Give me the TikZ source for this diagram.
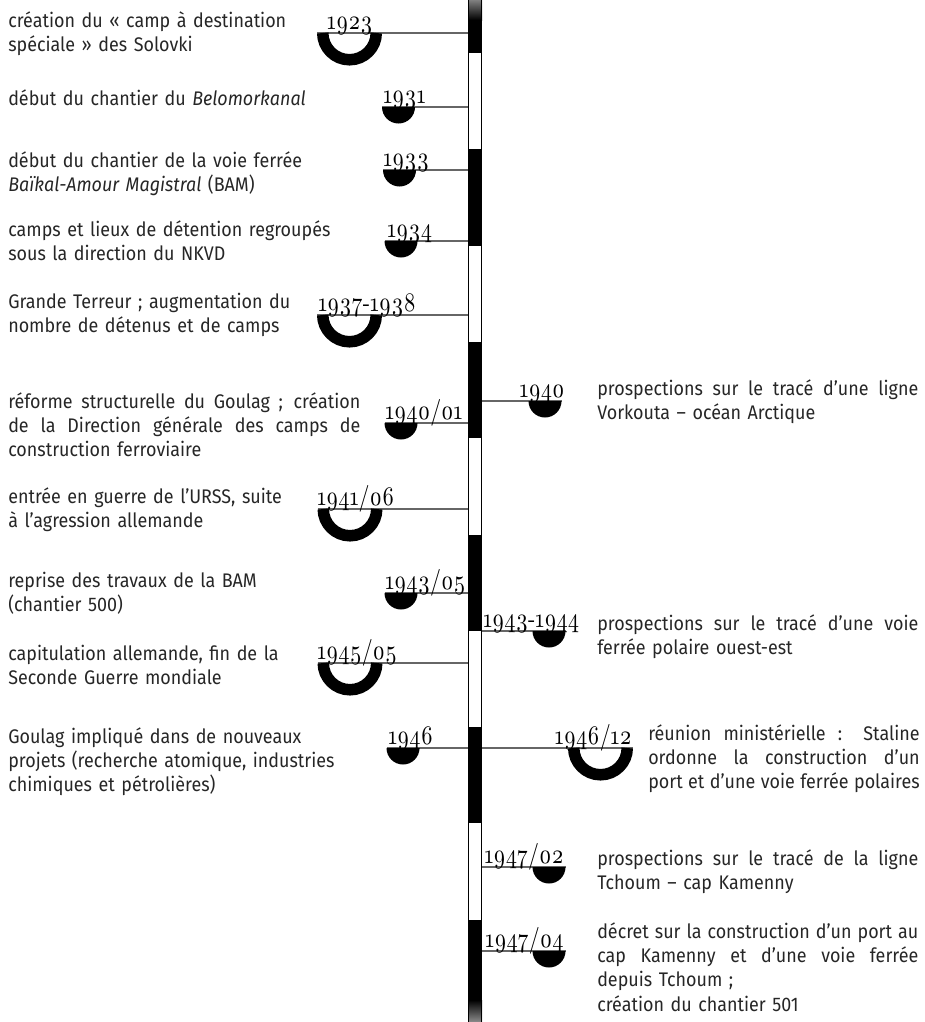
\documentclass[tikz,border=0pt]{standalone}
\usepackage{fontspec}
\setmainfont{Fira Sans}[FakeStretch=0.91]
\newfontfamily\datefont{lmroman10-regular.otf}[Numbers=OldStyle, FakeStretch=0.82]
\usepackage{tikz}
\usetikzlibrary{positioning}
\tikzset{
    evtext/.style={inner sep=0pt, anchor=base west, align=left, text width=250.4pt, font=\fontsize{14}{17.4}\selectfont, text=black!85},
    evtextr/.style={evtext, text width=228.3pt},
    datelbl/.style={inner sep=0pt, font=\datefont\fontsize{19}{19}\selectfont},
    evline/.style={draw=black!60, line width=0.8pt},
    halfdot/.style={fill=black},
    halfring/.style={draw=black, line width=8.2pt},
}
\newcommand\fullline[1]{\leavevmode\hbox to \hsize{\spaceskip=0pt\xspaceskip=0pt #1}}

\begin{document}
\begin{tikzpicture}[x=0.025cm, y=-0.025cm]
    \useasboundingbox (0,0) rectangle (925,1022);

    \coordinate (m1923) at (349.5,33);   \coordinate (b1923) at (468.5,33);
    \coordinate (m1931) at (398.5,107);  \coordinate (b1931) at (468.5,107);
    \coordinate (m1933) at (399.5,170);  \coordinate (b1933) at (468.5,170);
    \coordinate (m1934) at (401,241);    \coordinate (b1934) at (468.5,241);
    \coordinate (m1937) at (349.5,315);  \coordinate (b1937) at (468.5,315);
    \coordinate (m1940a) at (401,423);   \coordinate (b1940a) at (468.5,423);
    \coordinate (m1941) at (350,509);    \coordinate (b1941) at (468.5,509);
    \coordinate (m1943a) at (401,593);   \coordinate (b1943a) at (468.5,593);
    \coordinate (m1945) at (350,663);    \coordinate (b1945) at (468.5,663);
    \coordinate (m1946a) at (403,748);   \coordinate (b1946a) at (468.5,748);
    \coordinate (m1940b) at (545,401);   \coordinate (b1940b) at (481.5,401);
    \coordinate (m1943b) at (549,631);   \coordinate (b1943b) at (481.5,631);
    \coordinate (m1946b) at (600.5,748); \coordinate (b1946b) at (481.5,748);
    \coordinate (m1947a) at (549,867);   \coordinate (b1947a) at (481.5,867);
    \coordinate (m1947b) at (549,951);   \coordinate (b1947b) at (481.5,951);

    \draw[evline] ([xshift=-32.5*0.025cm]m1923) -- (b1923);
    \draw[evline] ([xshift=-16.5*0.025cm]m1931) -- (b1931);
    \draw[evline] ([xshift=-16.5*0.025cm]m1933) -- (b1933);
    \draw[evline] ([xshift=-16.5*0.025cm]m1934) -- (b1934);
    \draw[evline] ([xshift=-32.5*0.025cm]m1937) -- (b1937);
    \draw[evline] ([xshift=-16.5*0.025cm]m1940a) -- (b1940a);
    \draw[evline] ([xshift=-32.5*0.025cm]m1941) -- (b1941);
    \draw[evline] ([xshift=-16.5*0.025cm]m1943a) -- (b1943a);
    \draw[evline] ([xshift=-32.5*0.025cm]m1945) -- (b1945);
    \draw[evline] ([xshift=-16.5*0.025cm]m1946a) -- (b1946a);
    \draw[evline] (b1940b) -- ([xshift=16.5*0.025cm]m1940b);
    \draw[evline] (b1943b) -- ([xshift=16.5*0.025cm]m1943b);
    \draw[evline] (b1946b) -- ([xshift=32.5*0.025cm]m1946b);
    \draw[evline] (b1947a) -- ([xshift=16.5*0.025cm]m1947a);
    \draw[evline] (b1947b) -- ([xshift=16.5*0.025cm]m1947b);

    \draw[halfring] (m1923) ++(-26.75,0) arc[start angle=180, end angle=0, radius=26.75];
    \fill[halfdot] (m1931) ++(-16.5,0) arc[start angle=180, end angle=0, radius=16.5] -- cycle;
    \fill[halfdot] (m1933) ++(-16.5,0) arc[start angle=180, end angle=0, radius=16.5] -- cycle;
    \fill[halfdot] (m1934) ++(-16.5,0) arc[start angle=180, end angle=0, radius=16.5] -- cycle;
    \draw[halfring] (m1937) ++(-26.75,0) arc[start angle=180, end angle=0, radius=26.75];
    \fill[halfdot] (m1940a) ++(-16.5,0) arc[start angle=180, end angle=0, radius=16.5] -- cycle;
    \draw[halfring] (m1941) ++(-26.75,0) arc[start angle=180, end angle=0, radius=26.75];
    \fill[halfdot] (m1943a) ++(-16.5,0) arc[start angle=180, end angle=0, radius=16.5] -- cycle;
    \draw[halfring] (m1945) ++(-26.75,0) arc[start angle=180, end angle=0, radius=26.75];
    \fill[halfdot] (m1946a) ++(-16.5,0) arc[start angle=180, end angle=0, radius=16.5] -- cycle;
    \fill[halfdot] (m1940b) ++(-16.5,0) arc[start angle=180, end angle=0, radius=16.5] -- cycle;
    \fill[halfdot] (m1943b) ++(-16.5,0) arc[start angle=180, end angle=0, radius=16.5] -- cycle;
    \draw[halfring] (m1946b) ++(-26.75,0) arc[start angle=180, end angle=0, radius=26.75];
    \fill[halfdot] (m1947a) ++(-16.5,0) arc[start angle=180, end angle=0, radius=16.5] -- cycle;
    \fill[halfdot] (m1947b) ++(-16.5,0) arc[start angle=180, end angle=0, radius=16.5] -- cycle;

    \fill[white] (468,0) rectangle (482,1022);
    \fill[black] (468,20) rectangle (482,53);
    \foreach \s in {149.3,341.9,534.5,727.1}
        \fill[black] (468,\s) rectangle (482,\s+96.3);
    \fill[black] (468,919.7) rectangle (482,1000);
    \shade[top color=black!50, bottom color=black] (468,0) rectangle (482,20);
    \shade[top color=black, bottom color=black!45] (468,1000) rectangle (482,1022);
    \draw[line width=0.8pt] (468.5,0) -- (468.5,1022) (481.5,0) -- (481.5,1022);

    \node[datelbl, anchor=base] (d1923) at (350,29) {1923};
    \node[datelbl, anchor=base west] (d1931) at (383,103) {1931};
    \node[datelbl, anchor=base west] (d1933) at (383,166) {1933};
    \node[datelbl, anchor=base west] (d1934) at (387,237) {1934};
    \node[datelbl, anchor=base west] (d1937) at (318,311) {1937-1938};
    \node[datelbl, anchor=base west] (d1940a) at (385,419) {1940/01};
    \node[datelbl, anchor=base west] (d1941) at (317,505) {1941/06};
    \node[datelbl, anchor=base west] (d1943a) at (385,589) {1943/05};
    \node[datelbl, anchor=base west] (d1945) at (317,659) {1945/05};
    \node[datelbl, anchor=base west] (d1946a) at (388,744) {1946};
    \node[datelbl, anchor=base east] (d1940b) at (565,397) {1940};
    \node[datelbl, anchor=base west] (d1943b) at (483,627) {1943-1944};
    \node[datelbl, anchor=base east] (d1946b) at (632,744) {1946/12};
    \node[datelbl, anchor=base east] (d1947a) at (564,863) {1947/02};
    \node[datelbl, anchor=base east] (d1947b) at (564,947) {1947/04};

    \node[evtext] (t1923) at (8,27) {création du «~camp à destination\\spéciale~» des Solovki};
    \node[evtext] (t1931) at (8,105) {début du chantier du \textit{Belomorkanal}};
    \node[evtext] (t1933) at (8,167) {début du chantier de la voie ferrée\\\textit{Baïkal-Amour Magistral} (BAM)};
    \node[evtext] (t1934) at (8,236) {camps et lieux de détention regroupés\\sous la direction du NKVD};
    \node[evtext] (t1937) at (8,308) {Grande Terreur ; augmentation du\\nombre de détenus et de camps};
    \node[evtext] (t1940a) at (8,408) {\fullline{réforme structurelle du Goulag ; création}\\\fullline{de la Direction générale des camps de}\\construction ferroviaire};
    \node[evtext] (t1941) at (8,503) {entrée en guerre de l’URSS, suite\\à l’agression allemande};
    \node[evtext] (t1943a) at (8,587) {reprise des travaux de la BAM\\(chantier 500)};
    \node[evtext] (t1945) at (8,660) {capitulation allemande, fin de la\\Seconde Guerre mondiale};
    \node[evtext] (t1946a) at (8,743) {Goulag impliqué dans de nouveaux\\projets (recherche atomique, industries\\chimiques et pétrolières)};
    \node[evtextr] (t1940b) at (597,395) {\fullline{prospections sur le tracé d’une ligne}\\Vorkouta – océan Arctique};
    \node[evtextr] (t1943b) at (597,630) {\fullline{prospections sur le tracé d’une voie}\\ferrée polaire ouest-est};
    \node[evtextr, text width=193pt] (t1946b) at (648,740) {\fullline{réunion ministérielle : Staline}\\\fullline{ordonne la construction d’un}\\\fullline{port et d’une voie ferrée polaires}};
    \node[evtextr] (t1947a) at (597,865) {\fullline{prospections sur le tracé de la ligne}\\Tchoum – cap Kamenny};
    \node[evtextr] (t1947b) at (597,938) {\fullline{décret sur la construction d’un port au}\\\fullline{cap Kamenny et d’une voie ferrée}\\depuis Tchoum ;\\création du chantier 501};
\end{tikzpicture}
\end{document}
